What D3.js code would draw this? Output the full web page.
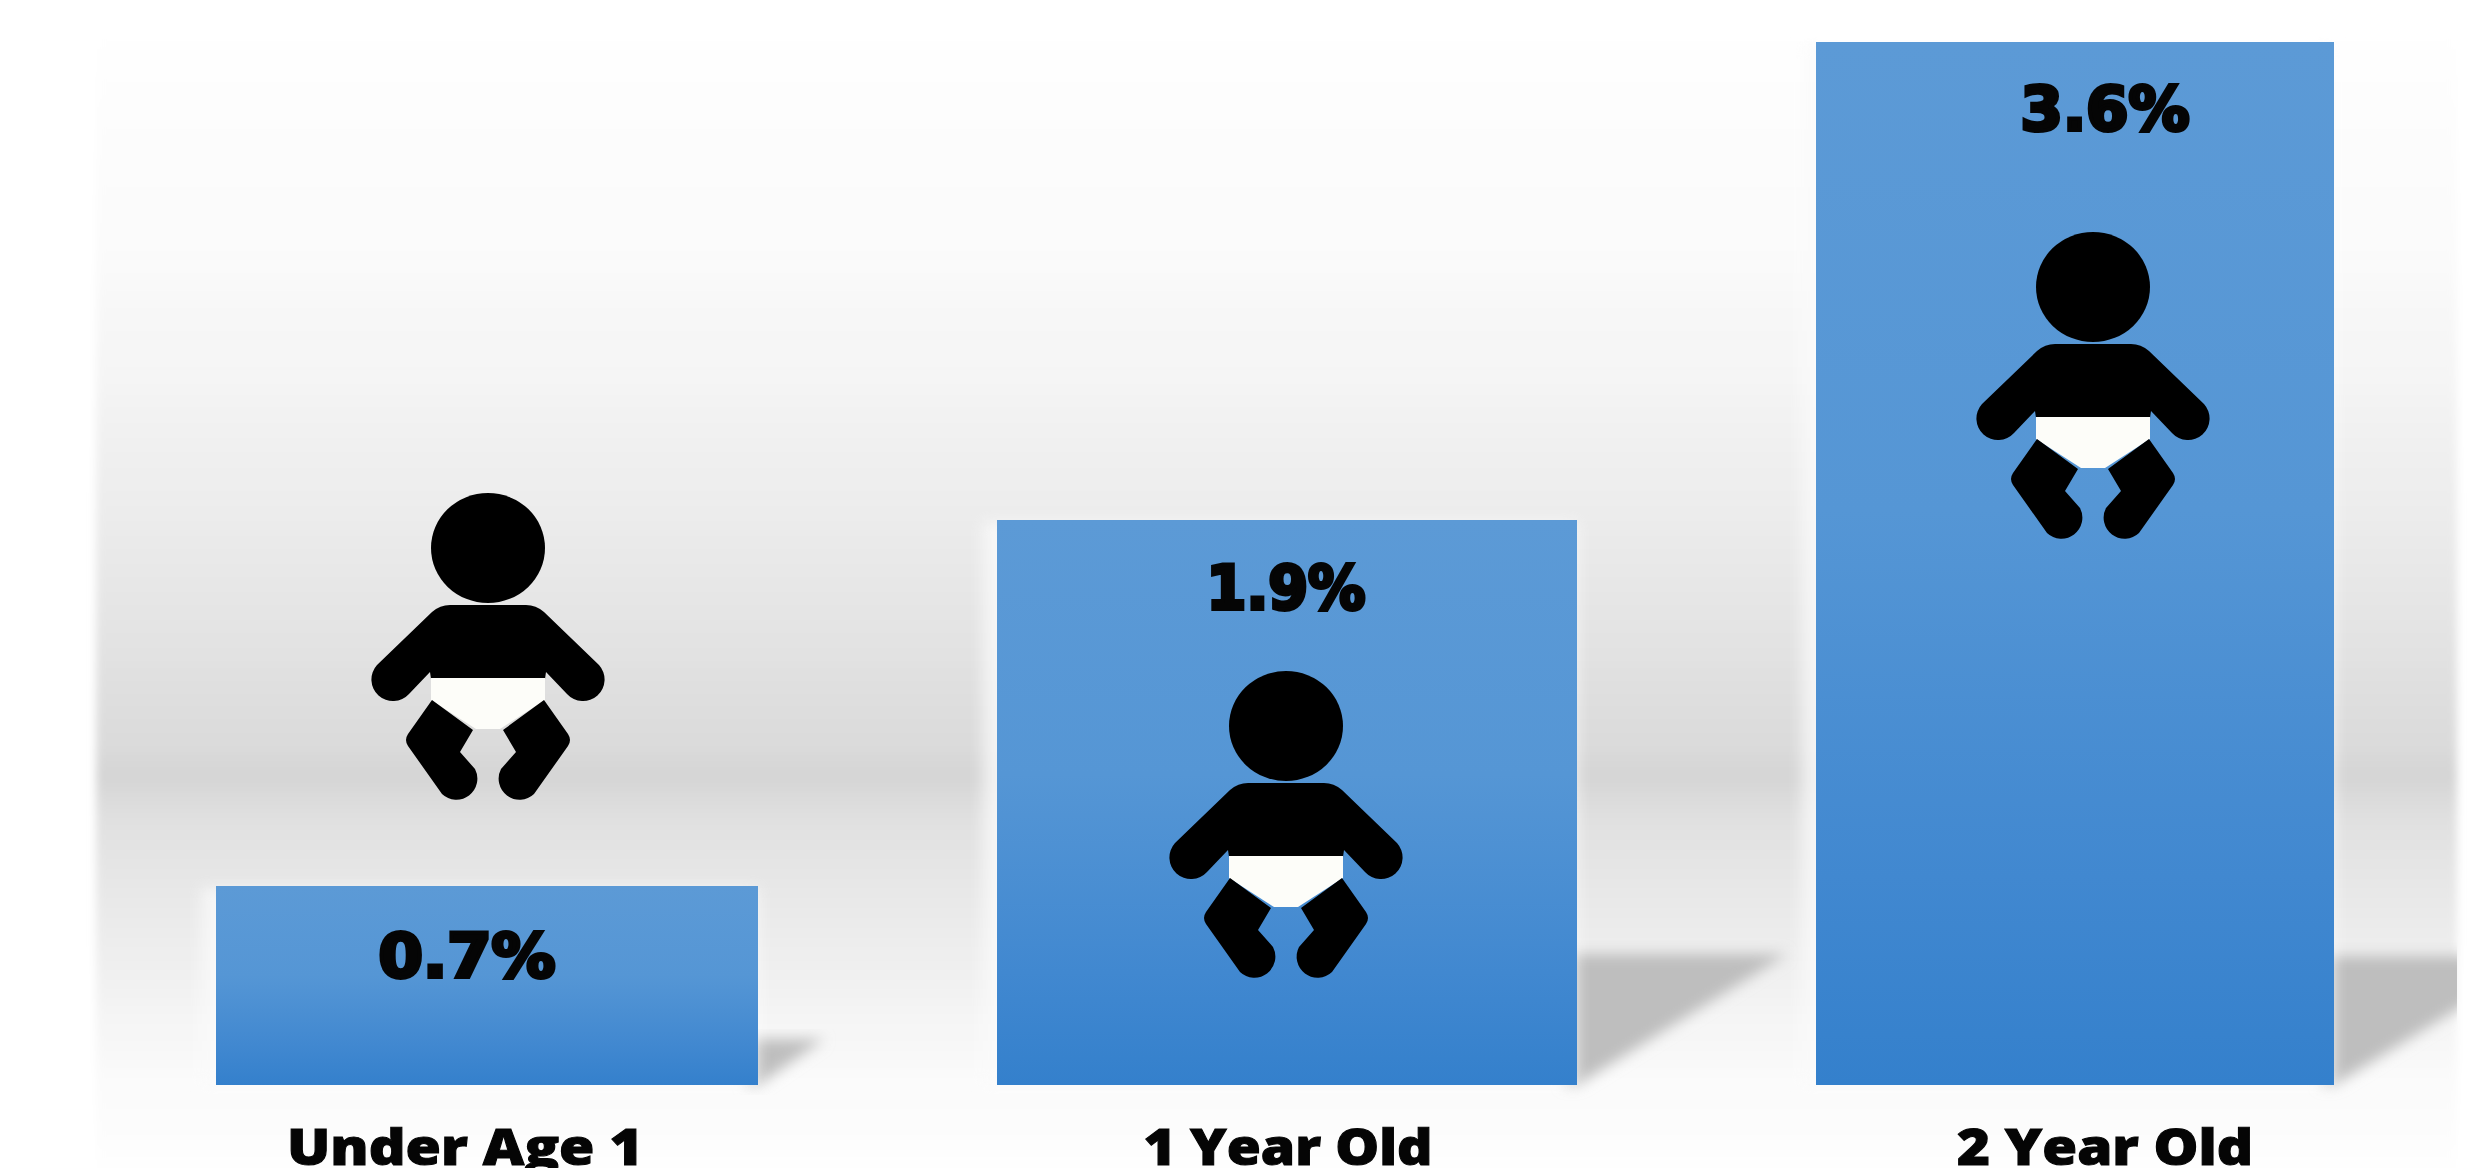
<!DOCTYPE html>
<html>
<head>
<meta charset="utf-8">
<script src="https://cdn.jsdelivr.net/npm/d3@7"></script>
<style>
  html, body { margin: 0; padding: 0; background: #fff; overflow: hidden; }
  svg { display: block; }
  .value { font-family: "DejaVu Sans", sans-serif; font-weight: 700; fill: #050505; }
  .category { font-family: "Open Sans", sans-serif; font-weight: 800; fill: #050505; }
</style>
</head>
<body>
<div id="chart"></div>
<script>
  const categories = ["Under Age 1", "1 Year Old", "2 Year Old"];
  const values = [0.7, 1.9, 3.6];
  const valueLabels = ["0.7%", "1.9%", "3.6%"];

  const width = 2471;
  const height = 1168;
  const baseline = 1085;

  // the bars in the source are not quite to scale, so the scale goes through each one
  const y = d3.scaleLinear().domain([0, 0.7, 1.9, 3.6]).range([baseline, 886, 520, 42]);
  const barCenter = d3.scaleOrdinal(categories, [487, 1287, 2075]);
  const barWidth = d3.scaleOrdinal(categories, [542, 580, 518]);
  const labelCenter = d3.scaleOrdinal(categories, [467, 1286, 2105]);
  const labelBase = d3.scaleOrdinal(categories, [977, 609, 130]);
  const labelWidth = d3.scaleOrdinal(categories, [177, 159, 169]);
  const categoryCenter = d3.scaleOrdinal(categories, [465, 1288, 2105]);
  const categoryWidth = d3.scaleOrdinal(categories, [356, 289, 296]);
  const babyX = d3.scaleOrdinal(categories, [488, 1286, 2093]);
  const babyY = d3.scaleOrdinal(categories, [548, 726, 287]);
  const shadowSize = d3.scaleOrdinal(categories, [[66, 46], [210, 131], [210, 129]]);

  const svg = d3.select("#chart").append("svg").attr("width", width).attr("height", height);
  const defs = svg.append("defs");

  const backdrop = defs.append("linearGradient").attr("id", "backdrop")
    .attr("gradientUnits", "userSpaceOnUse")
    .attr("x1", 0).attr("x2", 0).attr("y1", 0).attr("y2", height);
  [[0, "#ffffff"], [0.2, "#fbfbfb"], [0.32, "#f5f5f5"], [0.45, "#ebebeb"], [0.57, "#e1e1e1"],
   [0.635, "#dbdbdb"], [0.665, "#d5d5d5"], [0.7, "#e0e0e0"], [0.8, "#ececec"], [0.865, "#f4f4f4"],
   [0.93, "#fbfbfb"], [1, "#fefefe"]].forEach(s => {
    backdrop.append("stop").attr("offset", s[0]).attr("stop-color", s[1]);
  });

  const barFill = defs.append("linearGradient").attr("id", "barFill")
    .attr("x1", 0).attr("x2", 0).attr("y1", 0).attr("y2", 1);
  [[0, "#5c9ad6"], [0.45, "#5596d5"], [0.8, "#4188d0"], [1, "#3480cc"]].forEach(s => {
    barFill.append("stop").attr("offset", s[0]).attr("stop-color", s[1]);
  });

  const soft = (id, amount) => defs.append("filter").attr("id", id)
    .attr("x", "-20%").attr("y", "-20%").attr("width", "140%").attr("height", "140%")
    .append("feGaussianBlur").attr("stdDeviation", amount);
  soft("edge", 4);
  soft("shadowBlur", 7);
  soft("halo", 7);

  defs.append("clipPath").attr("id", "plate").append("rect")
    .attr("x", 96).attr("y", 0).attr("width", 2361).attr("height", height);

  svg.append("rect").attr("x", 96).attr("y", -40).attr("width", 2361).attr("height", height + 80)
    .attr("fill", "url(#backdrop)").attr("filter", "url(#edge)");

  const barLeft = d => barCenter(d.category) - barWidth(d.category) / 2;
  const barRight = d => barCenter(d.category) + barWidth(d.category) / 2;

  const rows = categories.map((category, i) => ({
    category, value: values[i], label: valueLabels[i]
  }));

  const shadows = svg.append("g").attr("clip-path", "url(#plate)");
  shadows.selectAll("path").data(rows).join("path")
    .attr("d", d => {
      const [w, h] = shadowSize(d.category);
      const x = barRight(d);
      return d3.line()([[x - 12, baseline], [x - 12, baseline - h], [x + w, baseline - h], [x, baseline]]) + "Z";
    })
    .attr("fill", "#bebebe")
    .attr("filter", "url(#shadowBlur)");

  // pale halo on the left side of the bars
  svg.append("g").selectAll("rect").data(rows).join("rect")
    .attr("x", d => barLeft(d) - 14)
    .attr("y", d => y(d.value) + 2)
    .attr("width", d => barWidth(d.category) + 14)
    .attr("height", d => baseline - y(d.value) - 2)
    .attr("fill", "#fbfbfb")
    .attr("opacity", 0.75)
    .attr("filter", "url(#halo)");

  svg.append("g").selectAll("rect").data(rows).join("rect")
    .attr("x", barLeft)
    .attr("y", d => y(d.value))
    .attr("width", d => barWidth(d.category))
    .attr("height", d => baseline - y(d.value))
    .attr("fill", "url(#barFill)");

  // baby icon, drawn around the centre of its head
  const bodyPath = "M-38,57 L38,57 Q48,57 56,64 L111,117 A21,21 0 0 1 79,146 L58,124 L57,131 L-57,131 L-58,124 L-79,146 A21,21 0 0 1 -111,117 L-56,64 Q-48,57 -38,57 Z";
  const diaperPath = "M-57,130 L57,130 L57,152 L12,181 L-12,181 L-57,152 Z";
  const legPath = "M-56,152 L-80,186 Q-84,192 -80,198 L-46,246 A21,21 0 0 0 -13,221 L-28,204 L-15,182 Z";

  const babies = svg.append("g").selectAll("g").data(rows).join("g")
    .attr("transform", d => `translate(${babyX(d.category)},${babyY(d.category)})`);
  babies.append("ellipse").attr("rx", 57).attr("ry", 55).attr("fill", "#000");
  babies.append("path").attr("d", bodyPath).attr("fill", "#000");
  babies.append("path").attr("d", diaperPath).attr("fill", "#fdfdf9");
  babies.append("path").attr("d", legPath).attr("fill", "#000");
  babies.append("path").attr("d", legPath).attr("fill", "#000").attr("transform", "scale(-1,1)");

  svg.append("g").selectAll("text").data(rows).join("text")
    .attr("class", "value")
    .attr("x", d => labelCenter(d.category))
    .attr("y", d => labelBase(d.category))
    .attr("text-anchor", "middle")
    .attr("font-size", 60)
    .attr("stroke", "#050505")
    .attr("stroke-width", 4)
    .attr("textLength", d => labelWidth(d.category))
    .attr("lengthAdjust", "spacingAndGlyphs")
    .text(d => d.label);

  svg.append("g").selectAll("text").data(rows).join("text")
    .attr("class", "category")
    .attr("x", d => categoryCenter(d.category))
    .attr("y", 1165)
    .attr("text-anchor", "middle")
    .attr("font-size", 49)
    .attr("stroke", "#050505")
    .attr("stroke-width", 1)
    .attr("textLength", d => categoryWidth(d.category))
    .attr("lengthAdjust", "spacingAndGlyphs")
    .text(d => d.category);
</script>
</body>
</html>
